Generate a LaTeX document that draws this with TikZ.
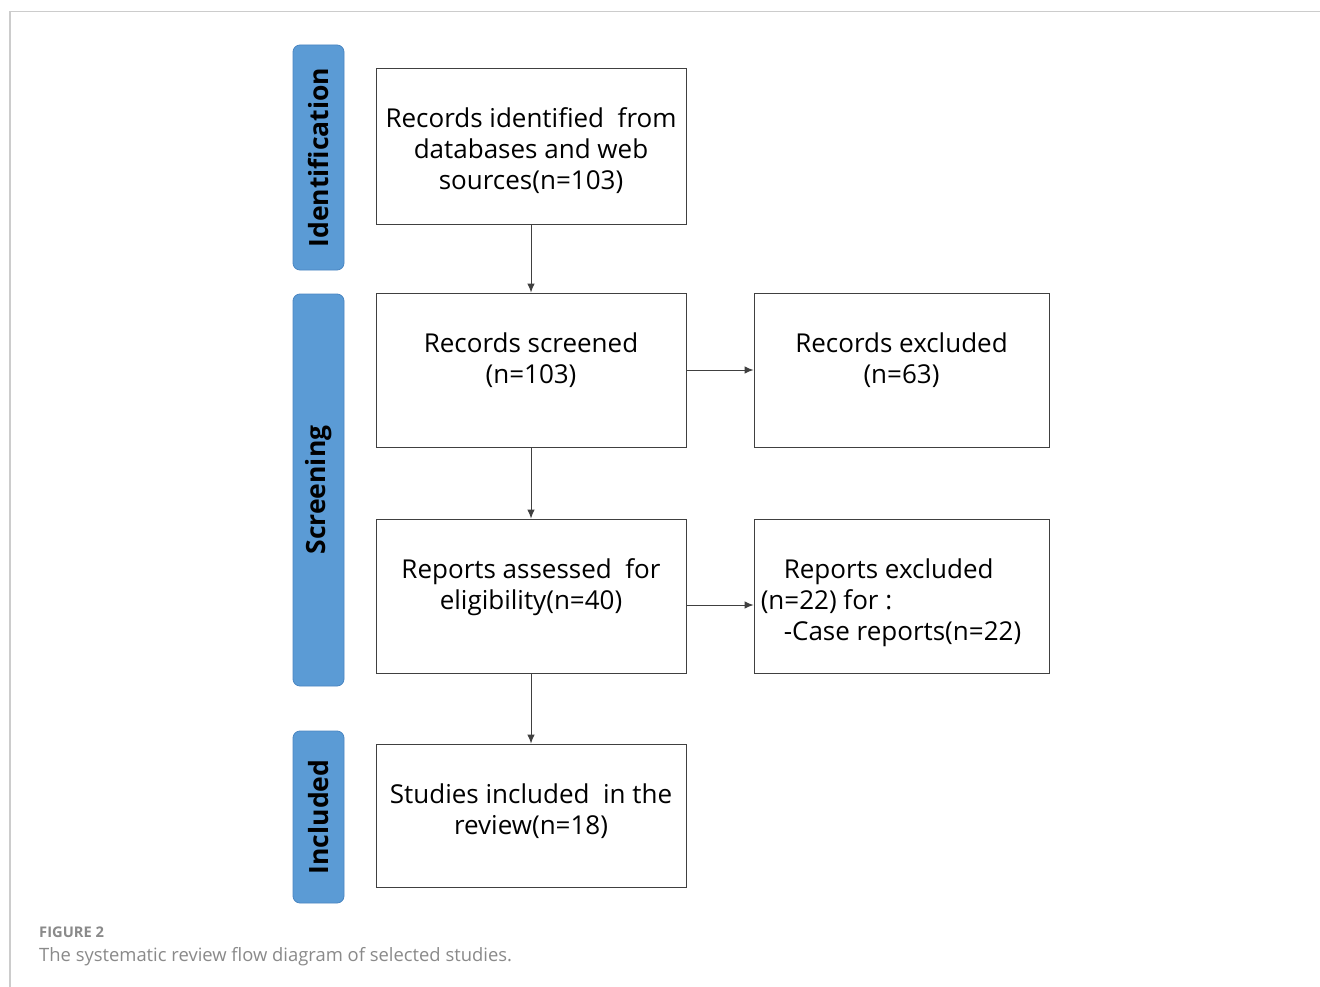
\documentclass[tikz,border=0pt]{standalone}
\usepackage{fontspec}
\setmainfont{Open Sans}
\usetikzlibrary{arrows.meta}
\definecolor{barblue}{HTML}{5B9BD5}
\definecolor{barline}{HTML}{4A86C2}
\definecolor{boxline}{HTML}{404040}
\definecolor{framegray}{HTML}{CCCCCC}
\definecolor{capgray}{HTML}{8A8A8A}
\begin{document}
\begin{tikzpicture}[x=1pt,y=-1pt,
  stagebar/.style={draw=barline, fill=barblue, line width=0.8pt, rounded corners=7pt, rotate=90,
    minimum height=51pt, inner sep=0pt, font=\fontsize{26.5}{30}\selectfont\bfseries},
  flowbox/.style={draw=boxline, line width=0.9pt, inner sep=0pt},
  flowtext/.style={anchor=north, inner sep=0pt, align=center, font=\fontsize{26}{31}\selectfont},
  flowarrow/.style={draw=boxline, line width=1pt, -{Latex[length=9pt,width=7.5pt]}}]
\useasboundingbox (0,0) rectangle (1320,987);
\fill[white] (0,0) rectangle (1320,987);
\draw[framegray, line width=1.2pt] (10,987) -- (10,11.5) -- (1320,11.5);
% stage bars
\node[stagebar, minimum width=225pt] (idbar) at (318.5,157.5) {Identification};
\node[stagebar, minimum width=392pt] (scbar) at (318.5,490) {Screening};
\node[stagebar, minimum width=172pt] (inbar) at (318.5,817) {Included};
% boxes
\node[flowbox, minimum width=310pt, minimum height=156pt] (b1) at (531,146) {};
\node[flowbox, minimum width=310pt, minimum height=154pt] (b2) at (531,370) {};
\node[flowbox, minimum width=310pt, minimum height=154pt] (b3) at (531,596) {};
\node[flowbox, minimum width=310pt, minimum height=143pt] (b4) at (531,815.5) {};
\node[flowbox, minimum width=295pt, minimum height=154pt] (e1) at (901.5,370) {};
\node[flowbox, minimum width=295pt, minimum height=154pt] (e2) at (901.5,596) {};
% texts
\node[flowtext] (t1) at ([yshift=-40pt]b1.north) {Records identified\ \ from\\databases and web\\sources(n=103)};
\node[flowtext] (t2) at ([yshift=-40pt]b2.north) {Records screened\\(n=103)};
\node[flowtext] (t3) at ([yshift=-40pt]b3.north) {Reports assessed\ \ for\\eligibility(n=40)};
\node[flowtext] (t4) at ([yshift=-40pt]b4.north) {Studies included\ \ in the\\review(n=18)};
\node[flowtext] (t5) at ([yshift=-40pt]e1.north) {Records excluded\\(n=63)};
\node[flowtext, anchor=north west, align=left] (t6) at ([xshift=7pt,yshift=-40pt]e2.north west) {\hspace{23pt}Reports excluded\\(n=22) for :\\\hspace{23pt}-Case reports(n=22)};
% arrows
\draw[flowarrow] (b1.south) -- (b2.north);
\draw[flowarrow] (b2.south) -- (b3.north);
\draw[flowarrow] (b3.south) -- (b4.north);
\draw[flowarrow] (b2.east) -- (e1.west);
\draw[flowarrow] (b3.east |- 0,605) -- (e2.west |- 0,605);
% caption
\node[anchor=base west, inner sep=0pt, text=capgray, font=\fontsize{14.7}{17}\selectfont\bfseries] (fig) at (39,937) {FIGURE 2};
\node[anchor=base west, inner sep=0pt, text=capgray, font=\fontsize{18.4}{22}\selectfont] (cap) at (39,961) {The systematic review flow diagram of selected studies.};
\end{tikzpicture}
\end{document}
